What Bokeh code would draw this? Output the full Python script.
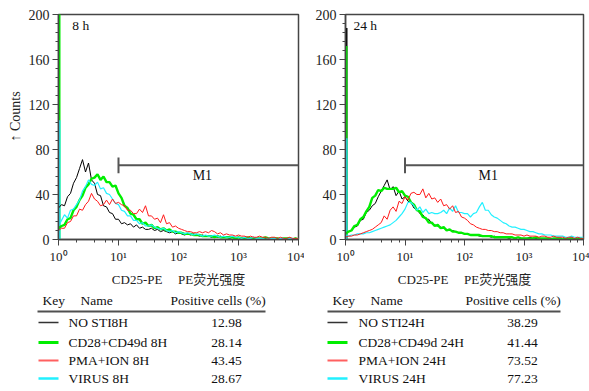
from bokeh.plotting import figure
from bokeh.layouts import column, row
from bokeh.models import Range1d, SingleIntervalTicker, LogTicker
from bokeh.core.properties import value
from bokeh.embed import file_html
from bokeh.resources import INLINE

# ---------------- data ----------------
# histogram bins: log10 of fluorescence, 20 channels per decade, 10^0 .. 10^4
bin_exponents = [i * 0.05 for i in range(81)]
bins = [10 ** e for e in bin_exponents]

black_8h = [28, 31, 30, 38, 41, 50, 55, 63, 71, 60,
            68, 53, 50, 40, 39, 30, 29, 24, 23, 18,
            18, 14, 15, 13, 14, 11, 13, 10, 11, 9,
            9, 10, 8, 9, 7, 8, 7, 6, 7, 5,
            6, 5, 4, 5, 4, 5, 4, 3, 4, 3,
            3, 2, 3, 2, 3, 2, 2, 1, 2, 1,
            2, 1, 2, 1, 1, 2, 1, 1, 0, 1,
            1, 0, 1, 1, 0, 1, 0, 1, 0, 1,
            0]
green_8h = [10, 12, 13, 18, 19, 26, 29, 35, 39, 46,
            49, 54, 55, 58, 53, 56, 51, 51, 47, 48,
            41, 37, 30, 28, 23, 22, 18, 18, 14, 15,
            12, 13, 10, 11, 9, 10, 8, 9, 7, 7,
            6, 6, 5, 5, 5, 4, 4, 4, 3, 3,
            3, 3, 2, 3, 2, 2, 2, 2, 2, 1,
            2, 1, 1, 2, 1, 1, 1, 1, 1, 2,
            1, 1, 1, 1, 0, 1, 1, 1, 0, 1,
            0]
red_8h = [8, 10, 10, 15, 16, 21, 21, 27, 26, 31,
          34, 41, 36, 34, 30, 31, 35, 31, 36, 32,
          33, 31, 30, 26, 26, 23, 23, 27, 24, 30,
          21, 21, 18, 19, 15, 22, 14, 15, 11, 12,
          10, 9, 8, 7, 7, 6, 6, 7, 6, 7,
          6, 8, 7, 5, 6, 4, 5, 4, 4, 3,
          4, 3, 3, 2, 3, 2, 2, 3, 2, 2,
          1, 2, 2, 1, 2, 1, 1, 2, 1, 1,
          1]
cyan_8h = [12, 17, 22, 19, 26, 27, 31, 35, 43, 47,
           53, 49, 48, 51, 45, 46, 41, 40, 36, 32,
           31, 26, 25, 21, 21, 17, 17, 14, 15, 12,
           12, 13, 11, 10, 9, 10, 8, 7, 8, 6,
           7, 6, 5, 6, 5, 4, 5, 4, 3, 4,
           3, 3, 4, 3, 2, 3, 2, 2, 3, 2,
           2, 1, 2, 1, 1, 2, 1, 1, 1, 0,
           1, 1, 1, 0, 1, 1, 0, 1, 1, 0,
           1]

black_24h = [5, 7, 8, 11, 12, 17, 18, 24, 26, 30,
             32, 38, 43, 48, 53, 44, 47, 39, 43, 36,
             38, 34, 33, 28, 27, 23, 22, 18, 18, 14,
             13, 12, 11, 10, 9, 8, 8, 7, 6, 6,
             5, 5, 4, 4, 4, 3, 3, 3, 3, 2,
             3, 2, 2, 2, 2, 1, 2, 1, 2, 1,
             1, 1, 2, 1, 1, 1, 0, 1, 1, 1,
             0, 1, 1, 0, 1, 1, 0, 1, 0, 1,
             0]
green_24h = [5, 7, 8, 12, 13, 18, 20, 25, 29, 37,
             39, 44, 43, 46, 45, 45, 45, 46, 42, 43,
             39, 38, 33, 31, 26, 25, 20, 19, 15, 15,
             12, 13, 10, 11, 8, 9, 7, 7, 6, 6,
             5, 5, 4, 4, 4, 4, 3, 3, 3, 3,
             2, 2, 2, 2, 2, 2, 2, 1, 2, 1,
             1, 1, 1, 1, 2, 1, 1, 1, 1, 0,
             1, 1, 1, 0, 1, 1, 1, 0, 1, 1,
             0]
red_24h = [2, 3, 3, 4, 4, 5, 6, 7, 8, 9,
           11, 13, 15, 21, 18, 26, 29, 25, 34, 32,
           38, 35, 41, 42, 40, 40, 45, 37, 41, 36,
           37, 33, 36, 30, 31, 27, 30, 24, 25, 20,
           19, 17, 14, 13, 11, 10, 9, 9, 8, 8,
           7, 7, 6, 6, 5, 5, 5, 4, 4, 4,
           3, 4, 3, 3, 3, 2, 3, 3, 2, 2,
           3, 2, 2, 2, 1, 2, 2, 1, 2, 1,
           1]
cyan_24h = [3, 3, 4, 4, 5, 5, 5, 6, 6, 7,
            8, 9, 10, 11, 12, 13, 15, 17, 20, 23,
            27, 33, 33, 30, 26, 29, 24, 27, 23, 24,
            23, 23, 24, 26, 23, 28, 25, 30, 24, 24,
            23, 23, 20, 23, 24, 29, 33, 26, 26, 22,
            20, 19, 17, 15, 14, 12, 11, 11, 10, 9,
            9, 8, 7, 7, 6, 5, 5, 4, 4, 4,
            3, 3, 3, 3, 2, 2, 3, 2, 2, 2,
            2]

# counts in the first channel (10^0)
spike_8h = {"green": 215, "cyan": 106}
spike_24h = {"black": 188, "green": 172, "cyan": 90}

# M1 gate
m1_start = 10
m1_end = 10000
m1_level = 66

sample_names_8h = ["NO STI8H", "CD28+CD49d 8H", " PMA+ION 8H", "VIRUS 8H"]
positive_8h = ["12.98", "28.14", "43.45", "28.67"]
sample_names_24h = ["NO STI24H", " CD28+CD49d 24H", " PMA+ION 24H", "VIRUS 24H"]
positive_24h = ["38.29", "41.44", "73.52", "77.23"]

x_tick_labels = {1: "10\u2070", 10: "10\u00b9", 100: "10\u00b2", 1000: "10\u00b3", 10000: "10\u2074"}

# ---------------- style ----------------
SERIF = "Liberation Serif"
MIXED = "Liberation Serif, Noto Sans CJK SC"
AXIS = "#454545"
COL = {"black": "#000000", "green": "#00ee00", "red": "#ff1a1a", "cyan": "#22f0ff"}
WID = {"black": 1.0, "green": 2.4, "red": 1.0, "cyan": 1.2}
KEY_COL = {"black": "#333333", "green": "#00ee00", "red": "#ff6060", "cyan": "#22f0ff"}
KEY_WID = {"black": 1.5, "green": 3.0, "red": 2.0, "cyan": 2.5}

TOP = 14
FRAME_H = 225
BOTTOM = 50
TABLE_H = 102


def panel(curves, spikes, label, label_x, frame_w, bl, br, with_ylabel):
    p = figure(frame_width=frame_w, frame_height=FRAME_H, x_axis_type="log",
               x_range=Range1d(1, 10000), y_range=Range1d(0, 200),
               output_backend="svg", toolbar_location=None,
               min_border_left=bl, min_border_right=br,
               min_border_top=TOP, min_border_bottom=BOTTOM)
    p.background_fill_color = "white"
    p.border_fill_color = "white"
    p.outline_line_color = AXIS
    p.outline_line_width = 1.5
    p.grid.visible = False

    p.yaxis.ticker = SingleIntervalTicker(interval=40, num_minor_ticks=5)
    p.xaxis.ticker = LogTicker(desired_num_ticks=5)
    p.xaxis.major_label_overrides = x_tick_labels
    for ax in (p.xaxis, p.yaxis):
        ax.axis_line_color = AXIS
        ax.axis_line_width = 1.5
        ax.major_tick_line_color = AXIS
        ax.minor_tick_line_color = AXIS
        ax.major_tick_in = 0
        ax.major_tick_out = 6
        ax.minor_tick_in = 0
        ax.minor_tick_out = 3
        ax.major_label_text_font = SERIF
        ax.major_label_text_color = "#222222"
        ax.major_label_standoff = 3
        ax.axis_label_text_font = MIXED
        ax.axis_label_text_font_style = "normal"
        ax.axis_label_text_color = "#222222"
    p.yaxis.major_label_text_font_size = "14px"
    p.xaxis.major_label_text_font_size = "13px"
    p.xaxis.axis_label = "CD25-PE\u2003\u2009PE荧光强度"
    p.xaxis.axis_label_text_font_size = "13px"
    p.xaxis.axis_label_standoff = 5
    if with_ylabel:
        p.yaxis.axis_label = "\u2003\u2002\u2191 Counts"
        p.yaxis.axis_label_text_font_size = "14px"
        p.yaxis.axis_label_standoff = 3

    # first-channel spikes
    for name, h in spikes.items():
        p.segment(x0=[1], y0=[0], x1=[1], y1=[h], line_color=COL[name], line_width=4)

    for name in ["black", "green", "cyan", "red"]:
        p.line(bins, curves[name], line_color=COL[name], line_width=WID[name])

    # M1 gate marker
    p.segment(x0=[m1_start], y0=[m1_level], x1=[m1_end], y1=[m1_level],
              line_color="#555555", line_width=2)
    p.segment(x0=[m1_start], y0=[m1_level - 7], x1=[m1_start], y1=[m1_level + 7],
              line_color="#555555", line_width=2)
    p.text(x=[250], y=[57], text=["M1"], text_font=value(SERIF), text_font_size="14px",
           text_align="center", text_baseline="middle", text_color="#111111")
    p.text(x=[label_x], y=[190], text=[label], text_font=value(SERIF), text_font_size="13.5px",
           text_align="left", text_baseline="middle", text_color="#111111")
    return p


def table(x0, x1, key_x, name_x, val_x, head_x, line_x, names, values):
    y_top = TOP + FRAME_H + BOTTOM
    t = figure(width=x1 - x0, height=TABLE_H, x_range=Range1d(x0, x1),
               y_range=Range1d(y_top + TABLE_H, y_top),
               output_backend="svg", toolbar_location=None,
               x_axis_location=None, y_axis_location=None,
               min_border=0)
    t.outline_line_color = None
    t.grid.visible = False
    t.background_fill_color = "white"
    t.border_fill_color = "white"
    fs = "13.5px"
    t.text(x=head_x, y=[300, 300, 300], text=["Key", "Name", "Positive cells (%)"],
           text_font=value(SERIF), text_font_size=fs, text_baseline="middle",
           text_align="left", text_color="#111111")
    t.segment(x0=[line_x[0]], y0=[311], x1=[line_x[1]], y1=[311],
              line_color="#505050", line_width=2.2)
    rows_y = [322, 342, 360, 378]
    for i, name in enumerate(["black", "green", "red", "cyan"]):
        t.segment(x0=[key_x[0]], y0=[rows_y[i]], x1=[key_x[1]], y1=[rows_y[i]],
                  line_color=KEY_COL[name], line_width=KEY_WID[name])
    t.text(x=[name_x] * 4, y=rows_y, text=names, text_font=value(SERIF), text_font_size=fs,
           text_baseline="middle", text_align="left", text_color="#111111")
    t.text(x=[val_x] * 4, y=rows_y, text=values, text_font=value(SERIF), text_font_size=fs,
           text_baseline="middle", text_align="center", text_color="#111111")
    return t


# left panel: frame x 58..298 ; right panel: frame x 345..583
p1 = panel({"black": black_8h, "green": green_8h, "red": red_8h, "cyan": cyan_8h},
           spike_8h, "8 h", 1.7, 240, 58, 6, True)
p2 = panel({"black": black_24h, "green": green_24h, "red": red_24h, "cyan": cyan_24h},
           spike_24h, "24 h", 1.36, 238, 41, 6, False)

t1 = table(0, 304, (38, 58), 68, 226, [42, 80, 170], (37, 265), sample_names_8h, positive_8h)
t2 = table(304, 589, (327, 347), 358, 522, [332, 370, 465], (327, 560), sample_names_24h, positive_24h)

layout = column(row(p1, p2), row(t1, t2))
open("out.html", "w").write(file_html(layout, INLINE))
